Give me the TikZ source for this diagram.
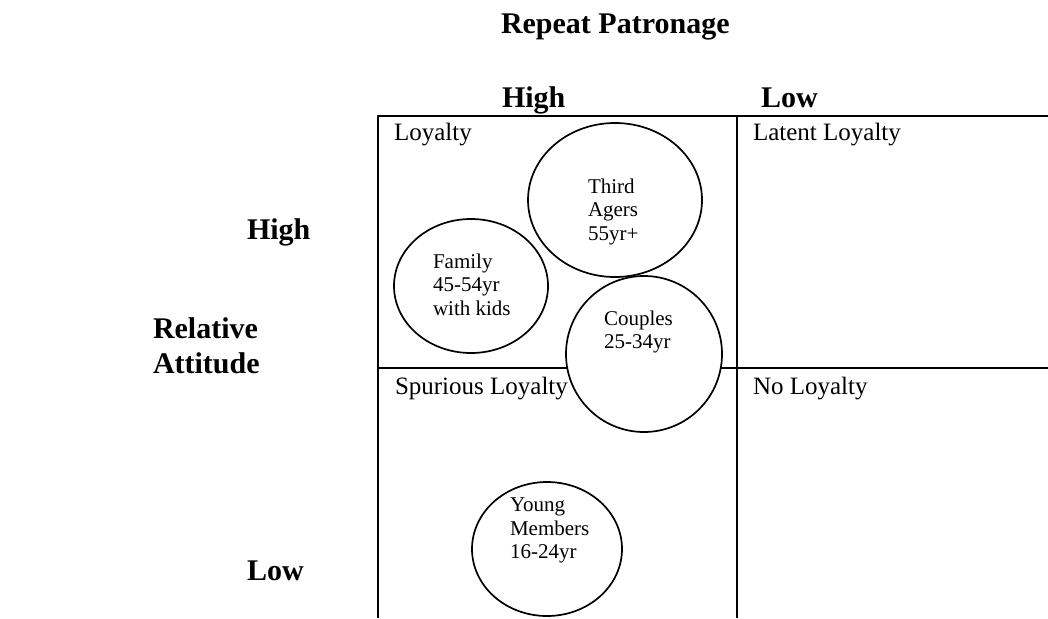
\documentclass[tikz,border=0pt]{standalone}
\usepackage{fontspec}
\setmainfont{Liberation Serif}
\usetikzlibrary{shapes.geometric}
\begin{document}
\begin{tikzpicture}[x=1pt, y=-1pt, line width=2pt, line join=round]
    \tikzset{head style/.style={font=\fontsize{30}{35}\selectfont\bfseries, inner sep=0pt, anchor=base west},
        cell style/.style={font=\fontsize{25}{30}\selectfont, inner sep=0pt, anchor=base west},
        group style/.style={draw, fill=white, ellipse, line width=1.7pt, inner sep=0pt},
        group text/.style={font=\fontsize{21}{23.5}\selectfont, align=left, inner sep=0pt, anchor=north west}}
    \useasboundingbox (0,0) rectangle (1048,618);
    % headings
    \node[head style] (patronage) at (500,34) {Repeat Patronage};
    \node[head style] (colhigh) at (501,107) {High};
    \node[head style] (collow) at (760,107) {Low};
    \node[head style] (rowhigh) at (246,239) {High};
    \node[head style] (rowlow) at (246,580) {Low};
    \node[head style, align=left, anchor=north west] (attitude) at (152,316.5) {Relative\\Attitude};
    % the four cells
    \draw (378,618) -- (378,116) -- (1048,116);
    \draw (737,618) -- (737,116);
    \draw (378,368) -- (1048,368);
    \node[cell style] (loyalty) at (393,140) {Loyalty};
    \node[cell style] (latent) at (752,140) {Latent Loyalty};
    \node[cell style] (spurious) at (394,394) {Spurious Loyalty};
    \node[cell style] (noloyalty) at (752,394) {No Loyalty};
    % segments
    \node[group style, minimum width=174, minimum height=154] (third) at (615,200) {};
    \node[group style, minimum width=154, minimum height=134] (family) at (471,286) {};
    \node[group style, minimum width=156, minimum height=156] (couples) at (644,354) {};
    \node[group style, minimum width=150, minimum height=134] (young) at (547,549) {};
    \node[group text] (thirdtext) at (587,177.5) {Third\\Agers\\55yr+};
    \node[group text] (familytext) at (432,252.7) {Family\\45-54yr\\with kids};
    \node[group text] (couplestext) at (603,309.7) {Couples\\25-34yr};
    \node[group text] (youngtext) at (509,497) {Young\\Members\\16-24yr};
\end{tikzpicture}
\end{document}
